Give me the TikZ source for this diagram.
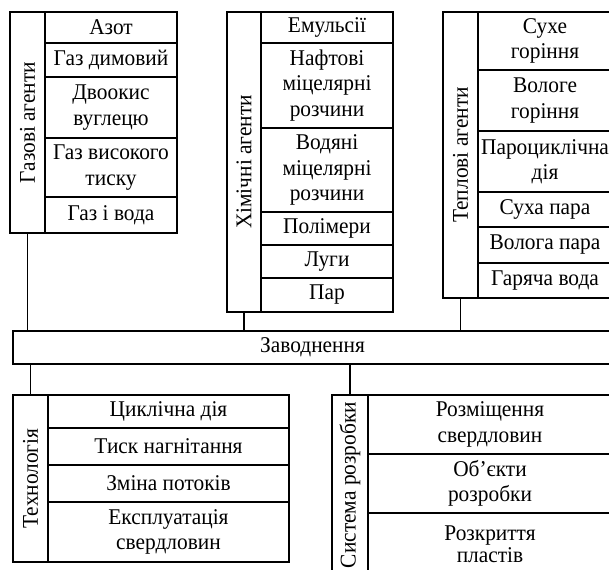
\documentclass[tikz,border=0pt]{standalone}
\usepackage{fontspec}
\setmainfont[FakeStretch=0.95]{Liberation Serif}
\usetikzlibrary{positioning}

\begin{document}
\begin{tikzpicture}[
    x=1pt, y=-1pt,
    every node/.style={font=\fontsize{22.5}{25.5}\selectfont},
    item/.style={draw, line width=1.6pt, inner sep=0pt, outer sep=0pt, align=center},
    group/.style={draw, line width=1.6pt, inner sep=0pt, outer sep=0pt, rotate=90},
    link/.style={line width=1.6pt},
]
    \useasboundingbox (0,0) rectangle (609,569);

    % Gas agents
    \node[group, minimum width=221, minimum height=35] (gasl) at (27.5,122.5) {Газові агенти};
    \node[item, minimum width=132, minimum height=31, anchor=north west] (azot) at (45,12) {Азот};
    \node[item, minimum width=132, minimum height=34, below=0pt of azot] (dym) {Газ димовий};
    \node[item, minimum width=132, minimum height=61, below=0pt of dym] (co2) {Двоокис\\вуглецю};
    \node[item, minimum width=132, minimum height=59, below=0pt of co2] (hpg) {Газ високого\\тиску};
    \node[item, minimum width=132, minimum height=36, below=0pt of hpg] (gw) {Газ і вода};

    % Chemical agents
    \node[group, minimum width=300, minimum height=34] (chml) at (244,162) {Хімічні агенти};
    \node[item, minimum width=132, minimum height=31, anchor=north west] (emul) at (261,12) {Емульсії};
    \node[item, minimum width=132, minimum height=85, below=0pt of emul] (oilm) {Нафтові\\міцелярні\\розчини};
    \node[item, minimum width=132, minimum height=84, below=0pt of oilm] (watm) {Водяні\\міцелярні\\розчини};
    \node[item, minimum width=132, minimum height=33, below=0pt of watm] (poly) {Полімери};
    \node[item, minimum width=132, minimum height=33, below=0pt of poly] (alk) {Луги};
    \node[item, minimum width=132, minimum height=34, below=0pt of alk] (par) {Пар};

    % Thermal agents
    \node[group, minimum width=286, minimum height=35] (thml) at (460.5,155) {Теплові агенти};
    \node[item, minimum width=134, minimum height=58, anchor=north west] (dryc) at (478,12) {Сухе\\горіння};
    \node[item, minimum width=134, minimum height=61, below=0pt of dryc] (wetc) {Вологе\\горіння};
    \node[item, minimum width=134, minimum height=61, below=0pt of wetc] (cyc) {Пароциклічна\\дія};
    \node[item, minimum width=134, minimum height=35, below=0pt of cyc] (drys) {Суха пара};
    \node[item, minimum width=134, minimum height=36, below=0pt of drys] (wets) {Волога пара};
    \node[item, minimum width=134, minimum height=35, below=0pt of wets] (hotw) {Гаряча вода};

    % Waterflooding
    \node[item, minimum width=599, minimum height=33] (flood) at (312.5,347.5) {Заводнення};

    % Technology
    \node[group, minimum width=167, minimum height=35] (tecl) at (30.5,478.5) {Технологія};
    \node[item, minimum width=241, minimum height=33, anchor=north west] (cycl) at (48,395) {Циклічна дія};
    \node[item, minimum width=241, minimum height=37, below=0pt of cycl] (pres) {Тиск нагнітання};
    \node[item, minimum width=241, minimum height=37, below=0pt of pres] (flow) {Зміна потоків};
    \node[item, minimum width=241, minimum height=60, below=0pt of flow] (wells) {Експлуатація\\свердловин};

    % Development system
    \node[group, minimum width=180, minimum height=36] (sysl) at (350,485) {Система розробки};
    \node[item, minimum width=244, minimum height=59, anchor=north west] (place) at (368,395) {Розміщення\\свердловин};
    \node[item, minimum width=244, minimum height=59, below=0pt of place] (objs) {Об’єкти\\розробки};
    \node[item, minimum width=244, minimum height=62, below=0pt of objs,
          font=\fontsize{22.5}{23.5}\selectfont] (open) {Розкриття\\[-1pt]пластів};

    % Links
    \draw[link] (gasl.west) -- (flood.north -| gasl.west);
    \draw[link] (chml.west) -- (flood.north -| chml.west);
    \draw[link] (thml.west) -- (flood.north -| thml.west);
    \draw[link] (flood.south -| tecl.east) -- (tecl.east);
    \draw[link] (flood.south -| sysl.east) -- (sysl.east);
\end{tikzpicture}
\end{document}
